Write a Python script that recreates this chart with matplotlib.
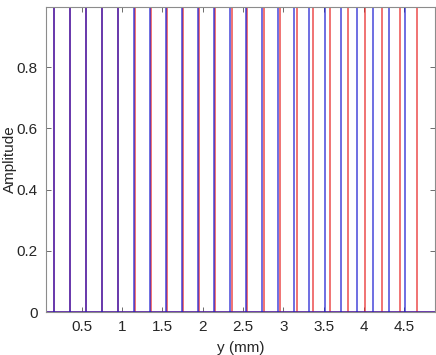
import matplotlib
matplotlib.use("Agg")
import matplotlib.pyplot as plt

# Data: impulse positions (mm) for the two series, amplitude 1
blue_pos = [0.156, 0.354, 0.552, 0.750, 0.949, 1.147, 1.345, 1.543, 1.741, 1.939,
            2.137, 2.335, 2.533, 2.731, 2.930, 3.128, 3.326, 3.524, 3.722, 3.920,
            4.118, 4.316, 4.514]
red_pos = [0.156, 0.355, 0.553, 0.754, 0.954, 1.155, 1.355, 1.555, 1.756, 1.955,
           2.158, 2.359, 2.556, 2.761, 2.964, 3.167, 3.373, 3.583, 3.800, 4.015,
           4.226, 4.445, 4.660]
amp = 1.0
x_ticks = [0.5, 1, 1.5, 2, 2.5, 3, 3.5, 4, 4.5]
x_tick_labels = ["0.5", "1", "1.5", "2", "2.5", "3", "3.5", "4", "4.5"]
y_ticks = [0, 0.2, 0.4, 0.6, 0.8]
y_tick_labels = ["0", "0.2", "0.4", "0.6", "0.8"]

plt.rcParams['font.family'] = ['Liberation Sans', 'DejaVu Sans']

fig = plt.figure(figsize=(4.36, 3.55), dpi=100)
ax = fig.add_axes([46 / 436, 43 / 355, (435 - 46) / 436, (312 - 7) / 355])

xlim = (0.057, 4.883)
ax.vlines(red_pos, 0, amp, colors='#e82020', linewidth=1.1, alpha=0.8)
ax.plot(xlim, [0, 0], color='#e82020', linewidth=1.1, alpha=0.8)
ax.vlines(blue_pos, 0, amp, colors='#1818d0', linewidth=1.1, alpha=0.8)
ax.plot(xlim, [0, 0], color='#1818d0', linewidth=1.1, alpha=0.8)

ax.set_xlim(*xlim)
ax.set_ylim(0, 0.996)
ax.set_xticks(x_ticks)
ax.set_xticklabels(x_tick_labels)
ax.set_yticks(y_ticks)
ax.set_yticklabels(y_tick_labels)

for s in ax.spines.values():
    s.set_color('#8c8c8c')
    s.set_linewidth(0.8)
ax.tick_params(direction='in', length=3.5, width=0.6, color='#555555',
               top=True, right=True, labelsize=11, labelcolor='#262626', pad=6)

ax.set_xlabel('y (mm)', fontsize=11, color='#262626', labelpad=5)
ax.set_ylabel('Amplitude', fontsize=11, color='#262626', va='center')
ax.yaxis.set_label_coords(-0.092, 0.5)

fig.savefig('out.png', dpi=100)
